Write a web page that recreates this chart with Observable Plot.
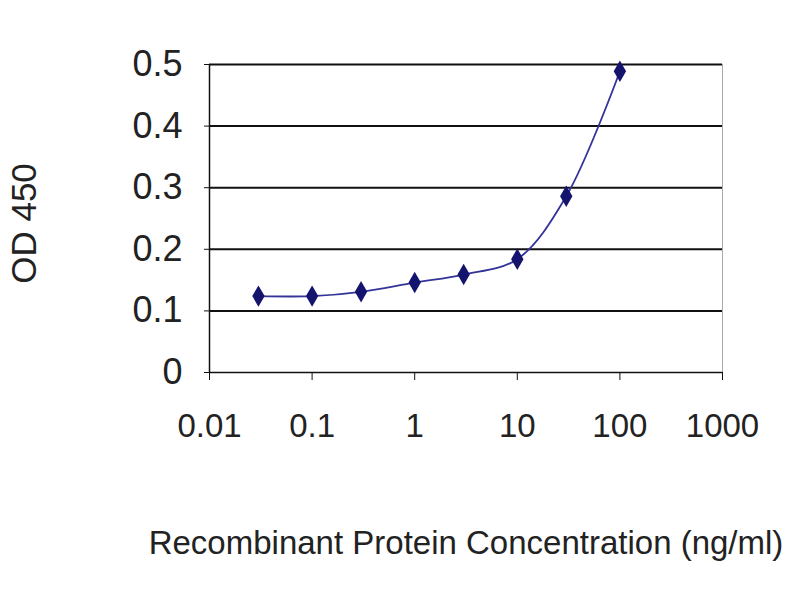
<!DOCTYPE html>
<html>
<head>
<meta charset="utf-8">
<script src="https://cdn.jsdelivr.net/npm/d3@7"></script>
<script src="https://cdn.jsdelivr.net/npm/@observablehq/plot@0.6"></script>
<style>
  body { margin: 0; background: #fff; }
</style>
</head>
<body>
<div id="chart"></div>
<script>
// concentraciones (ng/ml) y lecturas OD 450
const conc = [0.03, 0.1, 0.3, 1, 3, 10, 30, 100]
const od = [0.124, 0.124, 0.131, 0.146, 0.159, 0.184, 0.286, 0.489]
const xTicks = [0.01, 0.1, 1, 10, 100, 1000]
const xTickLabels = ['0.01', '0.1', '1', '10', '100', '1000']
const yTicks = [0, 0.1, 0.2, 0.3, 0.4, 0.5]
const yTickLabels = ['0', '0.1', '0.2', '0.3', '0.4', '0.5']
const xTitle = 'Recombinant Protein Concentration (ng/ml)'
const yTitle = 'OD 450'

const data = conc.map((c, i) => ({conc: c, od: od[i]}))

let chart = Plot.plot({
  width: 800,
  height: 600,
  marginLeft: 209,
  marginRight: 78,
  marginTop: 64,
  marginBottom: 228,
  style: {fontFamily: '"Liberation Sans", Arial, sans-serif', color: '#222', background: '#fff'},
  x: {type: 'log', domain: [0.01, 1000]},
  y: {domain: [0, 0.5]},
  marks: [
    // lineas de grilla
    Plot.ruleY(yTicks.slice(1), {stroke: '#111', strokeWidth: 2}),
    Plot.ruleX([1000], {stroke: '#aaa', strokeWidth: 1}),
    Plot.ruleX([0.01], {stroke: '#111', strokeWidth: 1.5}),
    Plot.ruleY([0], {stroke: '#111', strokeWidth: 1.5}),
    Plot.axisX({
      ticks: xTicks,
      tickFormat: d => xTickLabels[xTicks.indexOf(d)],
      tickSize: 8,
      tickPadding: 33,
      fontSize: 33,
      label: null,
      stroke: '#111'
    }),
    Plot.axisY({
      ticks: yTicks,
      tickFormat: d => yTickLabels[yTicks.indexOf(d)],
      tickSize: 5,
      tickPadding: 22,
      fontSize: 36,
      label: null,
      stroke: '#111'
    }),
    Plot.text([xTitle], {frameAnchor: 'bottom', dy: 181, fontSize: 33, fill: '#222'}),
    Plot.text([yTitle], {frameAnchor: 'left', textAnchor: 'middle', dx: -185, dy: 5, rotate: -90, fontSize: 35, fill: '#222'}),
    Plot.line(data, {x: 'conc', y: 'od', curve: 'catmull-rom', stroke: '#33339a', strokeWidth: 1.8}),
    Plot.dot(data, {x: 'conc', y: 'od', symbol: 'diamond', r: 6.5, fill: '#14146e', stroke: 'none'})
  ]
})

d3.select('#chart').append(() => chart)
</script>
</body>
</html>
